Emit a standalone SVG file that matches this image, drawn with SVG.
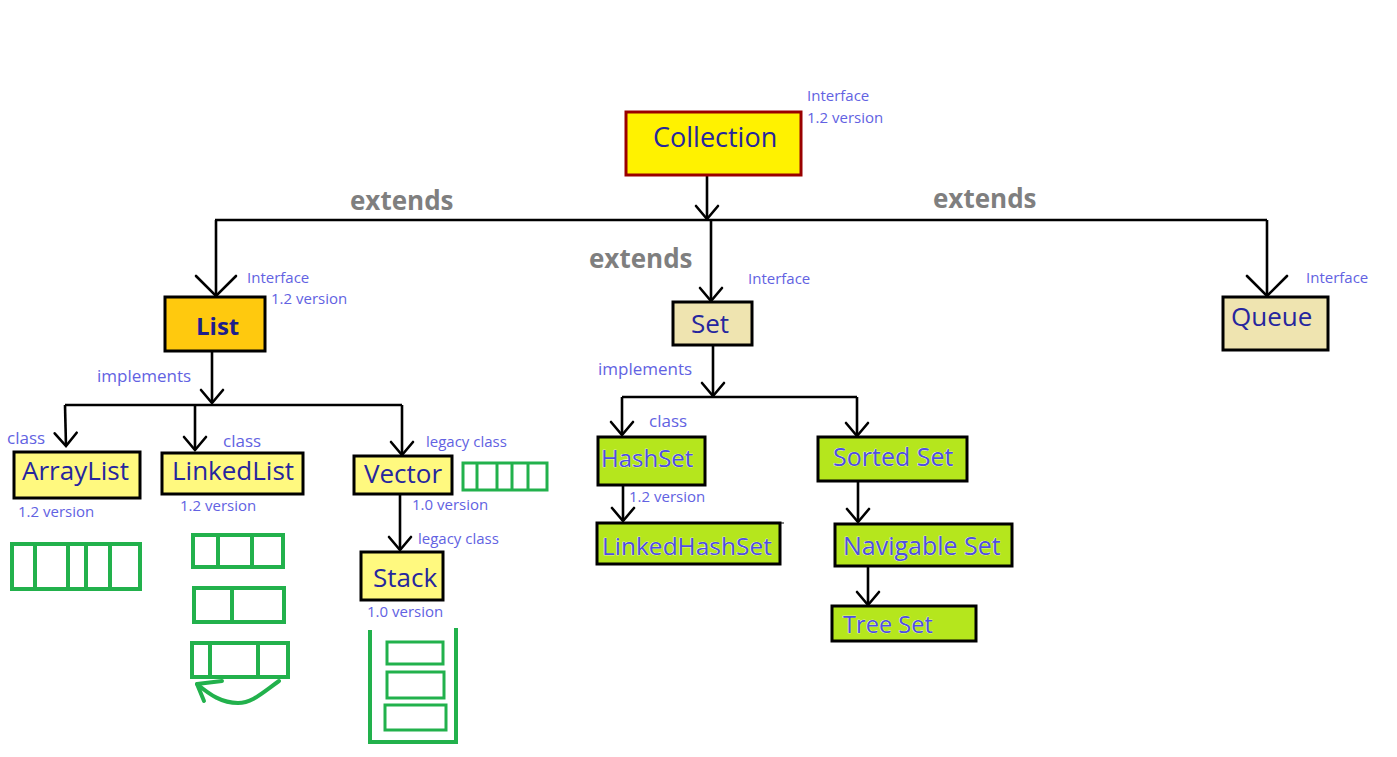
<svg xmlns="http://www.w3.org/2000/svg" width="1397" height="757" viewBox="0 0 1397 757">
<style>
  .box { stroke: #000; stroke-width: 3; }
  .yel { fill: #FFF97F; }
  .bei { fill: #EFE4B0; }
  .grn { fill: #B5E61D; }
  .nt { font-family: "Open Sans", "Noto Sans", sans-serif; font-size: 26px; fill: #26269E; }
  .gt { font-family: "Open Sans", "Noto Sans", sans-serif; font-size: 25px; fill: #4F4FE0; stroke: #ffffff; stroke-width: 0.6; paint-order: stroke; }
  .lb { font-family: "Open Sans", "Noto Sans", sans-serif; font-size: 15px; fill: #6262E2; }
  .lb17 { font-family: "Open Sans", "Noto Sans", sans-serif; font-size: 17px; fill: #6262E2; }
  .ext { font-family: "Open Sans", "Noto Sans", sans-serif; font-size: 26px; font-weight: bold; fill: #7F7F7F; }
  .ln { stroke: #000; stroke-width: 2.6; fill: none; }
  .gd { stroke: #22B14C; stroke-width: 4; fill: none; }
</style>
<defs>
  <marker id="arrS" markerUnits="userSpaceOnUse" viewBox="-16 -16 20 32" refX="0" refY="0" markerWidth="20" markerHeight="32" orient="auto">
    <path d="M-13,-11 L0,0 L-13,11" fill="none" stroke="#000" stroke-width="2.6" stroke-linecap="round"/>
  </marker>
  <marker id="arrL" markerUnits="userSpaceOnUse" viewBox="-24 -24 28 48" refX="0" refY="0" markerWidth="28" markerHeight="48" orient="auto">
    <path d="M-20,-20 L0,0 L-20,20" fill="none" stroke="#000" stroke-width="2.6" stroke-linecap="round"/>
  </marker>
</defs>
<rect width="1397" height="757" fill="#ffffff"/>

<g id="connectors">
  <path class="ln" d="M707,175 L707,219" marker-end="url(#arrS)"/>
  <path class="ln" d="M215,220 L1267,220"/>
  <path class="ln" d="M216,220 L216,296" marker-end="url(#arrL)"/>
  <path class="ln" d="M711,220 L711,301" marker-end="url(#arrS)"/>
  <path class="ln" d="M1267,220 L1267,296" marker-end="url(#arrL)"/>
  <path class="ln" d="M212,351 L212,403" marker-end="url(#arrS)"/>
  <path class="ln" d="M65,405 L402,405"/>
  <path class="ln" d="M65,405 L66,446" marker-end="url(#arrS)"/>
  <path class="ln" d="M195,405 L195,450" marker-end="url(#arrS)"/>
  <path class="ln" d="M402,405 L402,455" marker-end="url(#arrS)"/>
  <path class="ln" d="M400,494 L400,550" marker-end="url(#arrS)"/>
  <path class="ln" d="M713,345 L713,396" marker-end="url(#arrS)"/>
  <path class="ln" d="M622,397 L857,397"/>
  <path class="ln" d="M622,397 L622,435" marker-end="url(#arrS)"/>
  <path class="ln" d="M857,397 L857,436" marker-end="url(#arrS)"/>
  <path class="ln" d="M623,485 L623,521" marker-end="url(#arrS)"/>
  <path class="ln" d="M858,481 L858,522" marker-end="url(#arrS)"/>
  <path class="ln" d="M868,566 L868,605" marker-end="url(#arrS)"/>
</g>

<g id="edge-labels">
  <text class="ext" x="350" y="210">extends</text>
  <text class="ext" x="589" y="268">extends</text>
  <text class="ext" x="933" y="208">extends</text>
  <text class="lb17" x="97" y="382">implements</text>
  <text class="lb17" x="598" y="375">implements</text>
</g>

<g id="collection">
  <rect x="626" y="112" width="175" height="63" fill="#FFF200" stroke="#990000" stroke-width="3"/>
  <text class="nt" x="653" y="147" style="font-size:27px">Collection</text>
  <text class="lb" x="807" y="101">Interface</text>
  <text class="lb" x="807" y="123">1.2 version</text>
</g>

<g id="list">
  <rect class="box" x="165" y="297" width="100" height="54" fill="#FFC90E"/>
  <text class="nt" x="196" y="335" style="font-weight:bold;font-size:24px;fill:#1E1E8C">List</text>
  <text class="lb" x="247" y="283">Interface</text>
  <text class="lb" x="271" y="304">1.2 version</text>
</g>

<g id="set">
  <rect class="box bei" x="673" y="302" width="79" height="43"/>
  <text class="nt" x="691" y="333">Set</text>
  <text class="lb" x="748" y="284">Interface</text>
</g>

<g id="queue">
  <rect class="box bei" x="1223" y="297" width="105" height="53"/>
  <text class="nt" x="1231" y="326">Queue</text>
  <text class="lb" x="1306" y="283">Interface</text>
</g>

<g id="arraylist">
  <rect class="box yel" x="14" y="452" width="126" height="46"/>
  <text class="nt" x="22" y="480">ArrayList</text>
  <text class="lb17" x="7" y="444">class</text>
  <text class="lb" x="18" y="517">1.2 version</text>
  <rect class="gd" x="12" y="544" width="128" height="45"/>
  <path class="gd" d="M35,544 V589 M68,544 V589 M86,544 V589 M110,544 V589"/>
</g>

<g id="linkedlist">
  <rect class="box yel" x="162" y="453" width="141" height="41"/>
  <text class="nt" x="172" y="480">LinkedList</text>
  <text class="lb17" x="223" y="447">class</text>
  <text class="lb" x="180" y="511">1.2 version</text>
  <rect class="gd" x="193" y="535" width="90" height="32"/>
  <path class="gd" d="M218,535 V567 M252,535 V567"/>
  <rect class="gd" x="194" y="588" width="90" height="34"/>
  <path class="gd" d="M232,588 V622"/>
  <rect class="gd" x="192" y="643" width="96" height="34"/>
  <path class="gd" d="M210,643 V677 M258,643 V677"/>
  <path class="gd" d="M279,681 C262,693 252,703 238,703 C222,703 210,695 197,684" stroke-linecap="round"/>
  <path class="gd" d="M222,681 L197,684 L204,701" stroke-linecap="round" stroke-linejoin="round"/>
</g>

<g id="vector">
  <rect class="box yel" x="354" y="456" width="98" height="38"/>
  <text class="nt" x="364" y="483">Vector</text>
  <text class="lb" x="426" y="447">legacy class</text>
  <text class="lb" x="412" y="510">1.0 version</text>
  <rect x="463" y="463" width="84" height="27" fill="none" stroke="#22B14C" stroke-width="3"/>
  <path d="M477,463 V490 M497,463 V490 M512,463 V490 M528,463 V490" fill="none" stroke="#22B14C" stroke-width="3"/>
</g>

<g id="stack">
  <rect class="box yel" x="361" y="552" width="82" height="48"/>
  <text class="nt" x="373" y="587">Stack</text>
  <text class="lb" x="418" y="544">legacy class</text>
  <text class="lb" x="367" y="617">1.0 version</text>
  <path class="gd" d="M370,630 L370,742 L456,742 L456,628" stroke-width="4.5"/>
  <rect x="387" y="642" width="56" height="22" fill="none" stroke="#22B14C" stroke-width="3"/>
  <rect x="387" y="672" width="57" height="26" fill="none" stroke="#22B14C" stroke-width="3"/>
  <rect x="385" y="705" width="61" height="25" fill="none" stroke="#22B14C" stroke-width="3"/>
</g>

<g id="hashset">
  <rect class="box grn" x="598" y="437" width="107" height="48"/>
  <text class="gt" x="601" y="467" style="font-size:24px">HashSet</text>
  <text class="lb17" x="649" y="427">class</text>
  <text class="lb" x="629" y="502">1.2 version</text>
</g>

<g id="linkedhashset">
  <rect class="box grn" x="597" y="523" width="183" height="41"/>
  <path d="M780,523 L784,523" stroke="#000" stroke-width="1"/>
  <text class="gt" x="602" y="555" style="font-size:24.5px">LinkedHashSet</text>
</g>

<g id="sortedset">
  <rect class="box grn" x="818" y="437" width="149" height="44"/>
  <text class="gt" x="833" y="466">Sorted Set</text>
</g>

<g id="navigableset">
  <rect class="box grn" x="835" y="524" width="177" height="42"/>
  <text class="gt" x="843" y="555">Navigable Set</text>
</g>

<g id="treeset">
  <rect class="box grn" x="832" y="606" width="144" height="35"/>
  <text class="gt" x="843" y="633" style="font-size:23.6px">Tree Set</text>
</g>
</svg>
